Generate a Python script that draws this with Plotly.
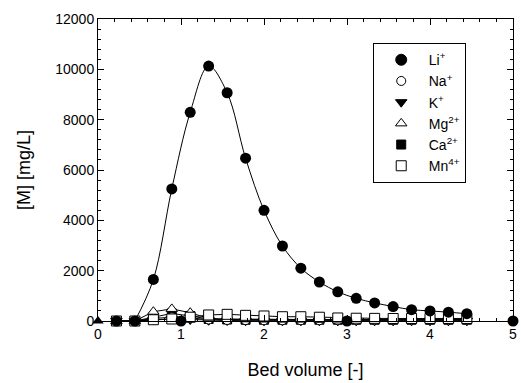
import plotly.graph_objects as go

# Bed volume sample positions
bv = [0.222, 0.444, 0.667, 0.889, 1.111, 1.333, 1.556, 1.778, 2.000, 2.222,
      2.444, 2.667, 2.889, 3.111, 3.333, 3.556, 3.778, 4.000, 4.222, 4.444]

li = [0, 0, 1650, 5250, 8290, 10130, 9070, 6470, 4400, 2980,
      2100, 1550, 1160, 900, 720, 575, 450, 400, 350, 290]
na = [0, 0, 100, 150, 120, 60, 40, 35, 30, 30,
      30, 30, 30, 30, 30, 30, 30, 30, 30, 30]
k = [0, 0, 40, 80, 60, 30, 20, 10, 10, 10,
     10, 10, 10, 10, 10, 10, 10, 10, 10, 10]
mg = [0, 0, 370, 480, 330, 100, 80, 70, 60, 60,
      60, 60, 60, 60, 60, 60, 60, 60, 60, 60]
ca = [0, 0, 150, 300, 200, 80, 60, 50, 50, 50,
      50, 50, 50, 50, 50, 50, 50, 50, 50, 50]
mn = [0, 0, 50, 80, 150, 240, 265, 225, 200, 170,
      170, 150, 120, 110, 105, 100, 100, 100, 100, 100]

# extra isolated points seen near the baseline
extra_li_x = [1.0, 3.0, 5.0]
extra_li_y = [0, 0, 0]
extra_tri_x = [0.0]
extra_tri_y = [0]

names = ["Li<sup>+</sup>", "Na<sup>+</sup>", "K<sup>+</sup>",
         "Mg<sup>2+</sup>", "Ca<sup>2+</sup>", "Mn<sup>4+</sup>"]

FONT = "Liberation Sans, Arial, sans-serif"
fig = go.Figure()

styles = [
    dict(symbol="circle", color="black", size=11),
    dict(symbol="circle", color="white", size=9),
    dict(symbol="triangle-down", color="black", size=10),
    dict(symbol="triangle-up", color="white", size=10),
    dict(symbol="square", color="black", size=9),
    dict(symbol="square", color="white", size=10),
]
series = [li, na, k, mg, ca, mn]

# straight-line series (drawn behind)
for idx in [2, 4, 1, 3, 5]:
    st = styles[idx]
    fig.add_trace(go.Scatter(
        x=bv, y=series[idx], mode="lines+markers", showlegend=False,
        line=dict(color="black", width=1), cliponaxis=False,
        marker=dict(symbol=st["symbol"], size=st["size"], color=st["color"],
                    line=dict(color="black", width=1))))

# Li with smooth fitted curve
fig.add_trace(go.Scatter(
    x=bv[1:], y=li[1:], mode="lines", showlegend=False,
    line=dict(color="black", width=1, shape="spline", smoothing=1.0)))
fig.add_trace(go.Scatter(
    x=bv, y=li, mode="markers", showlegend=False, cliponaxis=False,
    marker=dict(symbol="circle", size=11, color="black")))
fig.add_trace(go.Scatter(
    x=extra_li_x, y=extra_li_y, mode="markers", showlegend=False, cliponaxis=False,
    marker=dict(symbol="circle", size=11, color="black")))
fig.add_trace(go.Scatter(
    x=extra_tri_x, y=extra_tri_y, mode="markers", showlegend=False, cliponaxis=False,
    marker=dict(symbol="triangle-up", size=10, color="black")))

# legend entries
for name, st in zip(names, styles):
    fig.add_trace(go.Scatter(
        x=[None], y=[None], mode="markers", name=name,
        marker=dict(symbol=st["symbol"], size=st["size"], color=st["color"],
                    line=dict(color="black", width=1))))

axis_common = dict(
    showline=True, linecolor="black", linewidth=1, mirror="ticks",
    ticks="inside", ticklen=6, tickwidth=1, tickcolor="black",
    showgrid=False, zeroline=False, ticklabeloverflow="allow",
    tickfont=dict(family=FONT, size=14, color="black"),
)

fig.update_layout(
    width=521, height=383,
    margin=dict(l=98, r=4, t=19, b=62),
    paper_bgcolor="white", plot_bgcolor="white",
    font=dict(family=FONT, color="black"),
    xaxis=dict(range=[0, 5], dtick=1, tick0=0,
               minor=dict(dtick=0.2, ticklen=3, ticks="inside", tickcolor="black"),
               title=dict(text="Bed volume [-]", font=dict(family=FONT, size=18), standoff=22),
               **axis_common),
    yaxis=dict(range=[0, 12000], dtick=2000, tick0=0, tickformat="d",
               minor=dict(dtick=400, ticklen=3, ticks="inside", tickcolor="black"),
               title=dict(text="[M] [mg/L]", font=dict(family=FONT, size=18), standoff=19),
               **axis_common),
    legend=dict(x=0.662, y=0.92, xanchor="left", yanchor="top",
                bordercolor="black", borderwidth=1, bgcolor="white",
                font=dict(family=FONT, size=14, color="black"),
                itemwidth=45, tracegroupgap=0),
)

fig.write_html("out.html")
